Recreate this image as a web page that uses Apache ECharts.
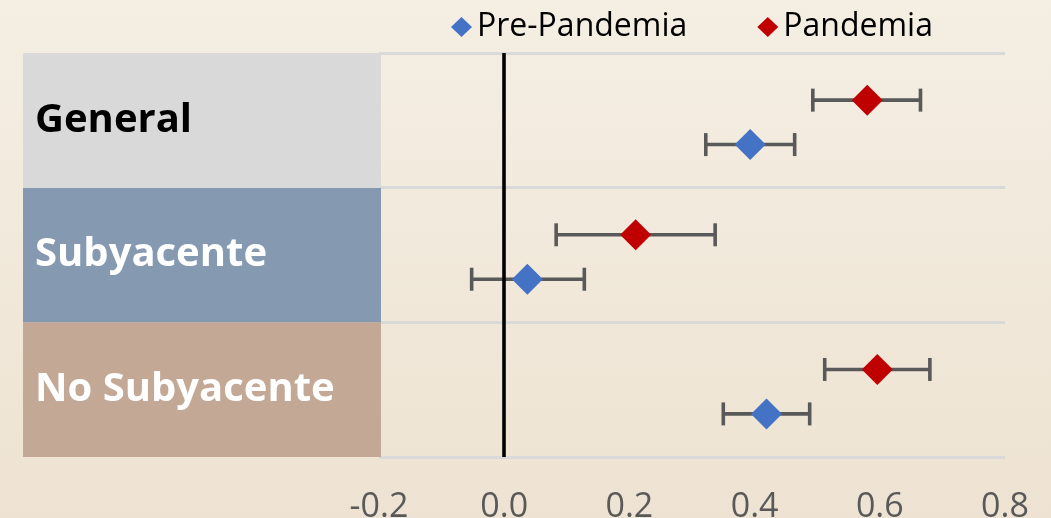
<!DOCTYPE html>
<html>
<head>
<meta charset="utf-8">
<script src="https://cdn.jsdelivr.net/npm/echarts@6/dist/echarts.min.js"></script>
<style>
html,body{margin:0;padding:0;}
#chart{width:1051px;height:518px;}
</style>
</head>
<body>
<div id="chart"></div>
<script>
// Categories from top to bottom
const categories = ['General', 'Subyacente', 'No Subyacente'];
const panelColors = ['#D9D9D9', '#8599B1', '#C3A895'];
const panelTextColors = ['#000000', '#FFFFFF', '#FFFFFF'];
const seriesNames = ['Pre-Pandemia', 'Pandemia'];
// Estimates and confidence intervals (per category, top to bottom)
const prePandemiaValues = [0.393, 0.037, 0.419];
const prePandemiaLow = [0.322, -0.052, 0.350];
const prePandemiaHigh = [0.464, 0.128, 0.488];
const pandemiaValues = [0.580, 0.210, 0.596];
const pandemiaLow = [0.493, 0.083, 0.512];
const pandemiaHigh = [0.665, 0.337, 0.680];
const xTicks = [-0.2, 0.0, 0.2, 0.4, 0.6, 0.8];

const FONT = 'Open Sans';
const nCat = categories.length;
// row index from bottom (value axis 0..nCat)
function rowBase(i) { return nCat - 1 - i; }
const preOffset = 0.32, panOffset = 0.65;

const preData = prePandemiaValues.map((v, i) => [v, rowBase(i) + preOffset]);
const panData = pandemiaValues.map((v, i) => [v, rowBase(i) + panOffset]);
const preErr = prePandemiaValues.map((v, i) => [prePandemiaLow[i], prePandemiaHigh[i], rowBase(i) + preOffset]);
const panErr = pandemiaValues.map((v, i) => [pandemiaLow[i], pandemiaHigh[i], rowBase(i) + panOffset]);

function errRender(params, api) {
  const lo = api.coord([api.value(0), api.value(2)]);
  const hi = api.coord([api.value(1), api.value(2)]);
  const cap = 11.5;
  const style = { stroke: '#595959', lineWidth: 3.6, fill: null };
  return {
    type: 'group',
    children: [
      { type: 'line', shape: { x1: lo[0], y1: lo[1], x2: hi[0], y2: hi[1] }, style: style },
      { type: 'line', shape: { x1: lo[0], y1: lo[1] - cap, x2: lo[0], y2: lo[1] + cap }, style: style },
      { type: 'line', shape: { x1: hi[0], y1: hi[1] - cap, x2: hi[0], y2: hi[1] + cap }, style: style }
    ]
  };
}

const panelCats = categories.slice().reverse();
const panelData = panelCats.map((c, j) => {
  const i = nCat - 1 - j;
  return {
    value: 1,
    itemStyle: { color: panelColors[i] },
    label: { color: panelTextColors[i] }
  };
});

const chart = echarts.init(document.getElementById('chart'));
chart.setOption({
  backgroundColor: {
    type: 'linear', x: 0, y: 0, x2: 0, y2: 1,
    colorStops: [{ offset: 0, color: '#F4EEE3' }, { offset: 1, color: '#EEE3D2' }]
  },
  animation: false,
  textStyle: { fontFamily: FONT },
  legend: {
    data: seriesNames.map(n => ({ name: n, icon: 'diamond' })),
    left: 446,
    top: 6,
    itemWidth: 21,
    itemHeight: 20,
    itemGap: 70,
    textStyle: { fontFamily: FONT, fontSize: 32, color: '#000' }
  },
  grid: [
    { left: 379, right: 46, top: 53, bottom: 61, outerBoundsMode: 'none', containLabel: false },
    { left: 23, width: 358, top: 53, bottom: 61, outerBoundsMode: 'none', containLabel: false }
  ],
  xAxis: [
    {
      gridIndex: 0, type: 'value', min: -0.2, max: 0.8, interval: 0.2,
      axisLine: { show: false }, axisTick: { show: false }, splitLine: { show: false },
      axisLabel: {
        color: '#595959', fontSize: 34, fontFamily: FONT, margin: 33,
        formatter: v => v.toFixed(1)
      }
    },
    { gridIndex: 1, type: 'value', min: 0, max: 1, show: false }
  ],
  yAxis: [
    {
      gridIndex: 0, type: 'value', min: 0, max: nCat, interval: 1,
      axisLine: { show: false }, axisTick: { show: false }, axisLabel: { show: false },
      splitLine: { show: true, lineStyle: { color: '#D9D9D9', width: 3 } }
    },
    { gridIndex: 1, type: 'category', data: panelCats, show: false }
  ],
  series: [
    {
      type: 'bar', xAxisIndex: 1, yAxisIndex: 1, data: panelData,
      barWidth: '100%', silent: true,
      label: {
        show: true, position: 'insideLeft', distance: 12, formatter: '{b}',
        fontFamily: FONT, fontWeight: 'bold', fontSize: 40
      }
    },
    {
      type: 'custom', name: 'errPre', xAxisIndex: 0, yAxisIndex: 0,
      renderItem: errRender, data: preErr, encode: { x: [0, 1], y: 2 }, z: 3, silent: true
    },
    {
      type: 'custom', name: 'errPan', xAxisIndex: 0, yAxisIndex: 0,
      renderItem: errRender, data: panErr, encode: { x: [0, 1], y: 2 }, z: 3, silent: true
    },
    {
      type: 'scatter', name: seriesNames[0], data: preData, symbol: 'diamond', symbolSize: 31,
      itemStyle: { color: '#4472C4', opacity: 1 }, z: 5,
      markLine: {
        silent: true, symbol: ['none', 'none'], label: { show: false },
        lineStyle: { color: '#000', width: 3.6, type: 'solid' },
        data: [{ xAxis: 0 }], z: 4
      }
    },
    {
      type: 'scatter', name: seriesNames[1], data: panData, symbol: 'diamond', symbolSize: 31,
      itemStyle: { color: '#C00000', opacity: 1 }, z: 5
    }
  ]
});
</script>
</body>
</html>
